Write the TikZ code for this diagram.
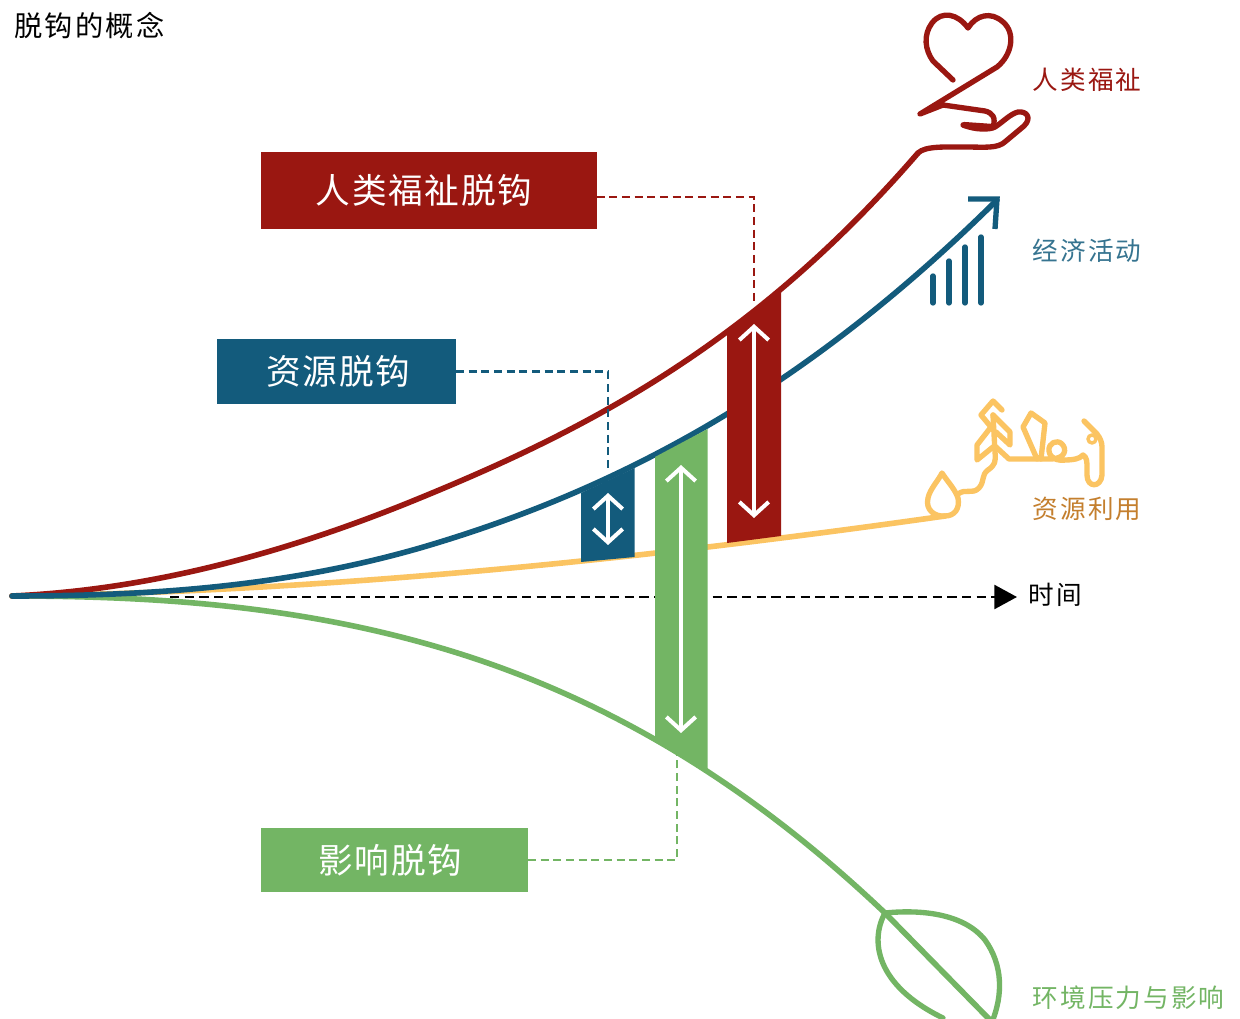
\documentclass[tikz,border=0pt]{standalone}
\usepackage{xcolor}
\usepackage{fontspec}
\usepackage{tikz}
\usetikzlibrary{arrows.meta}
\setmainfont{Noto Sans CJK SC}
\newfontfamily\cjkwide[LetterSpace=8]{Noto Sans CJK SC}
\newfontfamily\cjkbox[LetterSpace=5]{Noto Sans CJK SC}

\definecolor{humanred}{HTML}{9A1711}
\definecolor{econblue}{HTML}{135B7C}
\definecolor{impactgreen}{HTML}{73B564}
\definecolor{resyellow}{HTML}{FBC462}
\definecolor{restext}{HTML}{C47F2E}

\tikzset{
    curveline/.style={line width=4.2pt, line cap=round, line join=round},
    iconline/.style={line width=4pt, line cap=round, line join=round},
    box/.style={rectangle, inner sep=0pt, outer sep=0pt, text=white, font=\fontsize{26}{26}\selectfont\cjkbox},
    lbl/.style={inner sep=0pt, font=\fontsize{19.2}{19.2}\selectfont\cjkwide},
    link/.style={line width=1.8pt, dash pattern=on 6pt off 3.5pt},
    gap/.style={line width=3pt, white, {Straight Barb[length=10pt, width=22pt, line width=3pt]}-{Straight Barb[length=10pt, width=22pt, line width=3pt]}},
}

\begin{document}
\begin{tikzpicture}[x=0.75pt, y=-0.75pt]
    \clip (0, 0) rectangle (1240, 1019);
    \fill[white] (0, 0) rectangle (1240, 1019);

    % time axis
    \coordinate (axisstart) at (170, 597);
    \coordinate (axisend) at (1017, 597);
    \draw[line width=1.9pt, dash pattern=on 7pt off 4pt, -{Triangle[length=17pt, width=18pt]}] (axisstart) -- (axisend);

    % curves
    \coordinate (origin) at (12, 596);
    \coordinate (handstart) at (918, 153);
    \coordinate (arrowtip) at (997, 200);
    \coordinate (dropbase) at (945, 516);
    \coordinate (leafbase) at (885, 913);
    \coordinate (leaftip) at (992, 1022);
    \draw[curveline, impactgreen] (origin) .. controls (170, 596) and (320, 608) .. (470, 657)
        .. controls (610, 703) and (747, 782) .. (leafbase) -- (leaftip);
    \draw[curveline, resyellow] (origin) .. controls (300, 592) and (600, 565) .. (dropbase);
    \draw[curveline, humanred] (origin) .. controls (148, 590) and (284, 554) .. (420, 498)
        .. controls (586, 430) and (752, 345) .. (handstart);
    \draw[curveline, econblue] (origin) .. controls (150, 596) and (284, 587) .. (420, 548)
        .. controls (612, 492) and (800, 395) .. (arrowtip);

    % bars
    \fill[econblue] (581, 493) -- (634.5, 468) -- (634.5, 557) -- (581, 562) -- cycle;
    \fill[impactgreen] (655, 457) -- (707.5, 429) -- (707.5, 770) -- (655, 738) -- cycle;
    \fill[humanred] (727, 331) -- (781, 289) -- (781, 536) -- (727, 543) -- cycle;

    \coordinate (humanup) at (754, 324);
    \coordinate (humandown) at (754, 518);
    \coordinate (resup) at (608, 493);
    \coordinate (resdown) at (608, 545);
    \coordinate (impactup) at (681, 465);
    \coordinate (impactdown) at (681, 733);
    \draw[gap] (humanup) -- (humandown);
    \draw[gap] (resup) -- (resdown);
    \draw[gap] (impactup) -- (impactdown);

    % boxes
    \node[box, fill=humanred, minimum width=252pt, minimum height=57.75pt] at (428.5, 190.5) (humanbox) {人类福祉脱钩\kern6.75pt};
    \node[box, fill=econblue, minimum width=179.25pt, minimum height=48.75pt] at (336.5, 371.5) (resbox) {\kern3pt 资源脱钩};
    \node[box, fill=impactgreen, minimum width=200.25pt, minimum height=48pt] at (394.5, 860) (impactbox) {影响脱钩\kern6pt};

    \coordinate (humanbar) at (754, 305);
    \coordinate (resbar) at (608, 472);
    \coordinate (impactbar) at (677, 755);
    \draw[link, humanred] ([yshift=-5pt]humanbox.east) -| (humanbar);
    \draw[link, econblue] (resbox.east) -| (resbar);
    \draw[link, impactgreen] (impactbox.east) -| (impactbar);

    % hand and heart
    \draw[iconline, humanred] (handstart) .. controls (925, 146) and (945, 147) .. (965, 147)
        .. controls (985, 147) and (998, 149) .. (1006, 141)
        -- (1024, 126) .. controls (1032, 118) and (1027, 111) .. (1018, 112)
        .. controls (1010, 114) and (1003, 122) .. (995, 127)
        .. controls (990, 130) and (975, 130) .. (963, 125);
    \draw[iconline, humanred, line width=4.6pt] (964, 125) -- (993, 127);
    \draw[iconline, humanred] (993, 127) .. controls (996, 118) and (993, 113) .. (985, 111)
        -- (943, 105) -- (920, 114) -- (997, 67)
        .. controls (1012, 55) and (1016, 33) .. (1003, 22)
        .. controls (991, 11) and (976, 15) .. (968, 28)
        .. controls (958, 14) and (942, 10) .. (932, 23)
        .. controls (923, 35) and (925, 50) .. (933, 61) -- (953, 80);

    % growth arrow and chart
    \draw[line width=4pt, econblue, miter limit=10] (968, 199) -- (997, 199) -- (995, 229);
    \foreach \xpos/\ytop in {933/276, 949/261, 965/247, 981/237}
        \draw[iconline, econblue] (\xpos, 303) -- (\xpos, \ytop);

    % drop, tree and hills
    \draw[iconline, resyellow] (dropbase) .. controls (935, 517) and (925, 510) .. (928, 498)
        .. controls (930, 489) and (938, 481) .. (942, 473)
        .. controls (947, 481) and (955, 489) .. (958, 498)
        .. controls (960, 508) and (955, 516) .. (945, 516);
    \draw[iconline, resyellow] (958, 494) .. controls (966, 488) and (972, 495) .. (979, 488)
        .. controls (985, 481) and (981, 475) .. (988, 470)
        .. controls (995, 465) and (996, 462) .. (995, 452) -- (993, 415);
    \draw[iconline, resyellow] (1002, 410) -- (993, 401) -- (981, 415) -- (991, 427) -- (977, 445) -- (977, 460) -- (993, 447);
    \draw[iconline, resyellow] (993, 415) -- (1010, 432) -- (1010, 445) -- (996, 432);
    \draw[iconline, resyellow] (996, 447) -- (1009, 459) -- (1050, 459)
        .. controls (1066, 459) and (1067, 449) .. (1062, 444)
        .. controls (1057, 439) and (1048, 443) .. (1049, 451)
        .. controls (1050, 459) and (1058, 461) .. (1066, 460)
        .. controls (1072, 460) and (1080, 459) .. (1083, 455)
        .. controls (1087, 457) and (1087, 462) .. (1087, 468) -- (1087, 475)
        .. controls (1087, 488) and (1101, 488) .. (1102, 475) -- (1102, 447)
        .. controls (1102, 442) and (1100, 438) .. (1097, 434) -- (1084, 421);
    \draw[iconline, resyellow] (1037, 459) -- (1023, 427) -- (1031, 413) -- (1045, 423) -- (1041, 459);
    \draw[iconline, resyellow, line width=2.6pt] (1092, 439) circle (4);

    % leaf
    \draw[iconline, impactgreen] (leafbase) .. controls (925, 909) and (965, 915) .. (985, 940)
        .. controls (1003, 965) and (1003, 995) .. (992, 1022);
    \draw[iconline, impactgreen] (leafbase) .. controls (870, 940) and (875, 985) .. (943, 1018);

    % labels
    \node[inner sep=0pt, font=\fontsize{21.2}{21.2}\selectfont\cjkwide] at (89.5, 26) (title) {脱钩的概念};
    \node[lbl, text=humanred] at (1087, 80) (humanlbl) {人类福祉};
    \node[lbl, text=econblue!85!white] at (1087, 251) (econlbl) {经济活动};
    \node[lbl, text=restext] at (1087, 509) (reslbl) {资源利用};
    \node[lbl, text=black] at (1055, 595) (timelbl) {时间};
    \node[lbl, text=impactgreen] at (1128.5, 998) (impactlbl) {环境压力与影响};
\end{tikzpicture}
\end{document}
